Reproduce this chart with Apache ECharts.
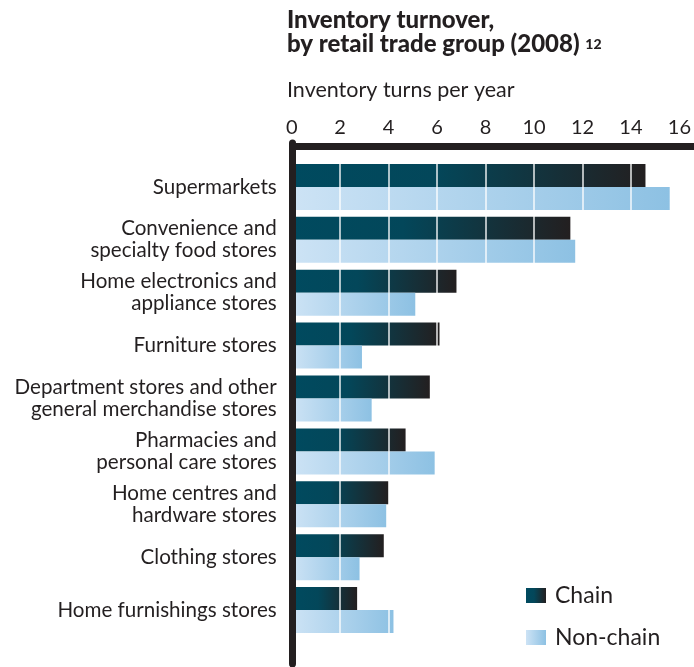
<!DOCTYPE html>
<html>
<head>
<meta charset="utf-8">
<script src="https://cdn.jsdelivr.net/npm/echarts@6/dist/echarts.min.js"></script>
<style>
html,body{margin:0;padding:0;background:#fff;}
#chart{width:694px;height:667px;}
</style>
</head>
<body>
<div id="chart"></div>
<script>
const categories = [
  'Supermarkets',
  'Convenience and\nspecialty food stores',
  'Home electronics and\nappliance stores',
  'Furniture stores',
  'Department stores and other\ngeneral merchandise stores',
  'Pharmacies and\npersonal care stores',
  'Home centres and\nhardware stores',
  'Clothing stores',
  'Home furnishings stores'
];
const chainValues =    [14.6, 11.5, 6.8, 6.1, 5.7, 4.7, 4.0, 3.8, 2.7];
const nonChainValues = [15.6, 11.7, 5.1, 2.9, 3.3, 5.9, 3.9, 2.8, 4.2];
const xTicks = [0, 2, 4, 6, 8, 10, 12, 14, 16];
const seriesNames = ['Chain', 'Non-chain'];

const FONT = 'Lato';
const INK = '#231f20';
const chart = echarts.init(document.getElementById('chart'), null, {renderer: 'canvas'});

const chainGrad = new echarts.graphic.LinearGradient(0, 0, 1, 0, [
  {offset: 0, color: '#004a5f'},
  {offset: 0.4, color: '#03475a'},
  {offset: 1, color: '#231f20'}
]);
const nonChainGrad = new echarts.graphic.LinearGradient(0, 0, 1, 0, [
  {offset: 0, color: '#cde3f5'},
  {offset: 1, color: '#8dc1e3'}
]);

const separators = xTicks.filter(v => v > xTicks[0] && v < xTicks[xTicks.length - 1]).map(v => ({xAxis: v}));

chart.setOption({
  animation: false,
  textStyle: {fontFamily: FONT, color: INK},
  title: [
    {
      text: 'Inventory turnover,\nby retail trade group (2008) {sup|12}',
      left: 287, top: 8, padding: 0,
      textStyle: {
        fontFamily: FONT, fontSize: 24, fontWeight: 900, color: INK, lineHeight: 24,
        rich: {sup: {fontFamily: FONT, fontSize: 14, fontWeight: 900, color: INK, verticalAlign: 'middle', lineHeight: 14}}
      }
    },
    {
      text: 'Inventory turns per year',
      left: 287, top: 79, padding: 0,
      textStyle: {fontFamily: FONT, fontSize: 21.5, fontWeight: 'normal', color: INK}
    }
  ],
  legend: {
    data: seriesNames, z: 50,
    orient: 'vertical', left: 526, top: 584, padding: 0,
    itemWidth: 20, itemHeight: 15, itemGap: 19,
    icon: 'rect',
    textStyle: {fontFamily: FONT, fontSize: 23, color: INK, padding: [0, 0, 0, 4]}
  },
  grid: {left: 291.7, right: 13.5, top: 160.5, bottom: 30.5, containLabel: false},
  xAxis: {
    type: 'value', position: 'top', min: 0, max: 16, interval: 2, offset: 14,
    axisLine: {show: false}, axisTick: {show: false}, splitLine: {show: false},
    axisLabel: {fontFamily: FONT, fontSize: 20, color: INK, margin: 9}
  },
  yAxis: {
    type: 'category', inverse: true, data: categories,
    axisLine: {show: false}, axisTick: {show: false}, splitLine: {show: false},
    axisLabel: {fontFamily: FONT, fontSize: 20.6, color: INK, margin: 15, lineHeight: 22, align: 'right'}
  },
  series: [
    {
      name: seriesNames[0], type: 'bar', data: chainValues,
      barGap: 0, barCategoryGap: '13%',
      itemStyle: {color: chainGrad}
    },
    {
      name: seriesNames[1], type: 'bar', data: nonChainValues,
      barGap: 0, barCategoryGap: '13%',
      itemStyle: {color: nonChainGrad},
      markLine: {
        silent: true, symbol: 'none', label: {show: false},
        lineStyle: {color: '#ffffff', width: 1.5, type: 'solid', opacity: 0.9},
        data: separators
      }
    }
  ],
  graphic: [
    {type: 'line', z: 100, shape: {x1: 289, y1: 146.5, x2: 694, y2: 146.5}, style: {stroke: INK, lineWidth: 7}},
    {type: 'line', z: 100, shape: {x1: 292.5, y1: 143, x2: 292.5, y2: 664}, style: {stroke: INK, lineWidth: 7, lineCap: 'round'}}
  ]
});
</script>
</body>
</html>
